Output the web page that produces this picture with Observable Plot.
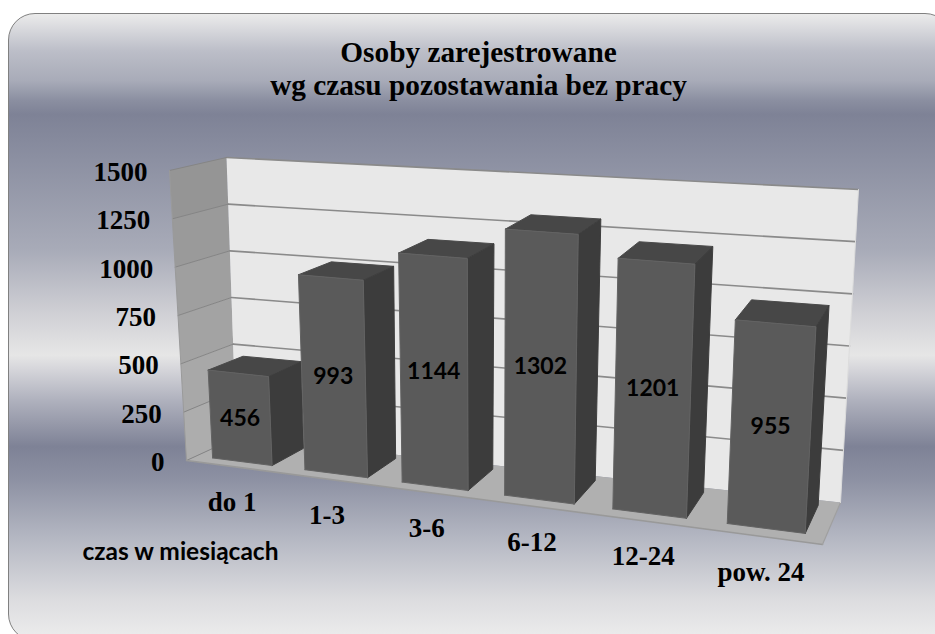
<!DOCTYPE html>
<html lang="pl">
<head>
<meta charset="utf-8">
<script src="https://cdn.jsdelivr.net/npm/d3@7"></script>
<script src="https://cdn.jsdelivr.net/npm/@observablehq/plot@0.6"></script>
<style>
html,body{margin:0;padding:0;background:#fff;overflow:hidden}
#stage{position:relative;width:935px;height:634px;overflow:hidden}
#panel{position:absolute;left:8px;top:13px;width:944px;height:628px;box-sizing:border-box;border:1.5px solid #808080;border-radius:27px;
background:linear-gradient(180deg,#ebebeb 0,#bcbec8 5.9%,#a8abb8 10.7%,#8a8ea0 13.9%,#7e8296 16%,#8c90a2 23.4%,#a8abb8 37.7%,#d0d0d5 47.9%,#e6e6e6 54.5%,#d5d5da 56.8%,#b0b2be 61.6%,#7e8296 69.1%,#8d91a3 74.4%,#b5b8c3 83.9%,#dcdcdf 93.5%,#ededed 100%)}
#chart{position:absolute;left:0;top:0}
#chart svg{background:transparent;display:block}
</style>
</head>
<body>
<div id="stage"><div id="panel"></div><div id="chart"></div></div>
<script>
const categories = ["do 1", "1-3", "3-6", "6-12", "12-24", "pow. 24"];
const values = [456, 993, 1144, 1302, 1201, 955];
const ticks = [0, 250, 500, 750, 1000, 1250, 1500];
const titleLines = ["Osoby zarejestrowane", "wg czasu pozostawania bez pracy"];
const axisTitle = "czas w miesiącach";

// Perspective box of the 3D chart: floor and ceiling corners of the value volume
const maxValue = 1500, persp = -0.15;
const floorC = {f0:[186,460], f1:[822,544], b0:[236,437], b1:[840,502]};
const ceilC  = {f0:[169,170], f1:[840,215], b0:[226,157], b1:[858,189]};
const lerp = (a,b,t) => a + (b-a)*t;
function bilinear(c, p, d, k){
  return lerp(lerp(c.f0[k], c.f1[k], p), lerp(c.b0[k], c.b1[k], p), d);
}
// u: across categories 0..1, d: depth 0..1, v: data value
function project(u, d, v){
  const p = u*(1+persp)/(1+persp*u), h = v/maxValue;
  return {
    x: lerp(bilinear(floorC,p,d,0), bilinear(ceilC,p,d,0), h),
    y: lerp(bilinear(floorC,p,d,1), bilinear(ceilC,p,d,1), h)
  };
}
const poly = (pts, fill, stroke="none", strokeWidth=1) => {
  const closed = pts.concat([pts[0]]);
  return Plot.line(closed, {x:"x", y:"y", fill, stroke, strokeWidth, strokeLinejoin:"round"});
};
const seg = (a, b, stroke, strokeWidth) => Plot.line([a,b], {x:"x", y:"y", stroke, strokeWidth});

const n = categories.length;
const barD0 = 0.2, barD1 = 0.88, gapL = 0.18, gapR = 0.83;
const marks = [];

// left wall, banded between gridlines
const wallColor = d3.interpolateRgb("#adadad", "#959595");
for (let i = 0; i < ticks.length-1; i++) {
  marks.push(poly([project(0,0,ticks[i]), project(0,1,ticks[i]), project(0,1,ticks[i+1]), project(0,0,ticks[i+1])],
    wallColor(i/(ticks.length-2))));
}
// back wall
marks.push(poly([project(0,1,0), project(1,1,0), project(1,1,maxValue), project(0,1,maxValue)], "#e8e8e8"));
// floor
marks.push(poly([project(0,0,0), project(1,0,0), project(1,1,0), project(0,1,0)], "#b0b0b0"));
// gridlines
for (const t of ticks) {
  if (t > 0) marks.push(seg(project(0,1,t), project(1,1,t), "#8a8a8a", 1.6));
  marks.push(seg(project(0,0,t), project(0,1,t), "#858585", 1));
}
// frame edges
marks.push(seg(project(0,0,0), project(1,0,0), "#999999", 1.6));
marks.push(seg(project(1,0,0), project(1,1,0), "#a0a0a0", 1.2));
marks.push(seg(project(0,0,0), project(0,0,maxValue), "#9a9a9a", 1));
marks.push(seg(project(1,1,0), project(1,1,maxValue), "#dcdcdc", 1));

// bars
values.forEach((v,i) => {
  const u0 = (i+gapL)/n, u1 = (i+gapR)/n;
  marks.push(poly([project(u0,barD0,v), project(u1,barD0,v), project(u1,barD1,v), project(u0,barD1,v)], "#474747", "#4a4a4a"));
  marks.push(poly([project(u1,barD0,0), project(u1,barD1,0), project(u1,barD1,v), project(u1,barD0,v)], "#3c3c3c", "#3e3e3e"));
  marks.push(poly([project(u0,barD0,0), project(u1,barD0,0), project(u1,barD0,v), project(u0,barD0,v)], "#5a5a5a", "#636363"));
});

const serif = "'Liberation Serif', serif";
// value labels on the front faces
marks.push(Plot.text(values.map((v,i) => ({...project((i+(gapL+gapR)/2)/n, barD0, v/2), v})), {
  x:"x", y:"y", text:d=>String(d.v), dy:1, fontFamily:"Lato, sans-serif", fontWeight:"bold", fontSize:23, fill:"#000"
}));
// value-axis labels
marks.push(Plot.text(ticks.map(t => ({...project(0,0,t), t})), {
  x:"x", y:"y", text:d=>String(d.t), textAnchor:"end", dx:-22, dy:2, fontFamily:serif, fontWeight:"bold", fontSize:27, fill:"#000"
}));
// category labels
marks.push(Plot.text(categories.map((c,i) => ({...project((i+0.5)/n,0,0), c})), {
  x:"x", y:"y", text:"c", dy:36, fontFamily:serif, fontWeight:"bold", fontSize:27, fill:"#000"
}));
// titles
marks.push(Plot.text(titleLines.map((t,i)=>({t,i})), {
  x:()=>478, y:d=>52+33*d.i, text:"t", fontFamily:serif, fontWeight:"bold", fontSize:29.3, fill:"#000"
}));
marks.push(Plot.text([axisTitle], {
  x:()=>180, y:()=>552, text:d=>d, fontFamily:"Lato, sans-serif", fontWeight:"bold", fontSize:24.5, fill:"#000"
}));

const chart = Plot.plot({
  width:935, height:634, margin:0,
  x:{domain:[0,935], range:[0,935], axis:null},
  y:{domain:[0,634], range:[0,634], axis:null},
  style:{background:"transparent"},
  marks
});
document.getElementById("chart").appendChild(chart);
</script>
</body>
</html>
